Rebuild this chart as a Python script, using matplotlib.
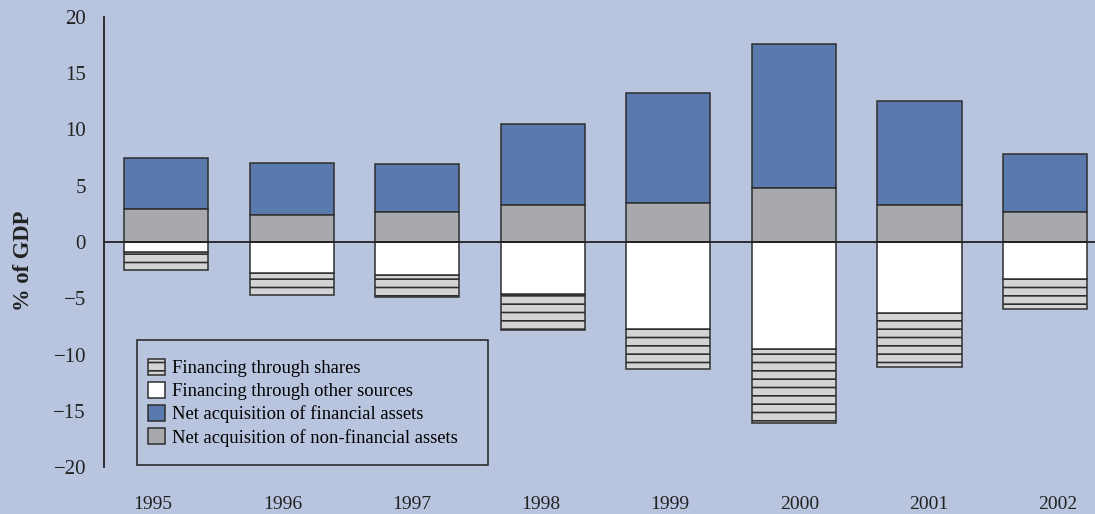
import matplotlib
matplotlib.use("Agg")
import matplotlib.pyplot as plt
from matplotlib.patches import Rectangle
import numpy as np

years = ["1995", "1996", "1997", "1998", "1999", "2000", "2001", "2002"]
non_financial = [2.9, 2.4, 2.7, 3.3, 3.5, 4.8, 3.3, 2.7]
financial = [4.6, 4.65, 4.2, 7.15, 9.7, 12.8, 9.2, 5.15]
other_sources = [-0.9, -2.8, -2.95, -4.65, -7.7, -9.55, -6.35, -3.3]
shares = [-1.6, -1.9, -1.95, -3.2, -3.6, -6.55, -4.75, -2.7]

BG = "#b9c4df"
BLUE = "#5a79ac"
GRAY = "#a8a9ac"
LIGHT = "#d4d4d6"
EDGE = "#2e2e2e"
INK = "#222222"

plt.rcParams["font.family"] = ["Liberation Serif", "DejaVu Serif"]
plt.rcParams["hatch.linewidth"] = 1.2
plt.rcParams["hatch.color"] = EDGE

fig = plt.figure(figsize=(10.95, 5.14), dpi=100, facecolor=BG)
ax = fig.add_axes([0.095, 0.0914, 0.905, 0.8756], facecolor=BG)

x = np.arange(len(years))
w = 0.67
bar_kw = dict(width=w, edgecolor=EDGE, linewidth=1.1, zorder=3)

ax.bar(x, shares, bottom=other_sources, color=LIGHT, hatch="--",
       label="Financing through shares", **bar_kw)
ax.bar(x, other_sources, color="white",
       label="Financing through other sources", **bar_kw)
ax.bar(x, financial, bottom=non_financial, color=BLUE,
       label="Net acquisition of financial assets", **bar_kw)
ax.bar(x, non_financial, color=GRAY,
       label="Net acquisition of non-financial assets", **bar_kw)

ax.axhline(0, color=INK, linewidth=1.3, zorder=4)

ax.set_xlim(-0.494, 7.397)
ax.set_ylim(-20, 20)
ticks = list(range(-20, 21, 5))
ax.set_yticks(ticks)
ax.set_yticklabels([str(v).replace("-", "\u2212") for v in ticks])

# year labels are spread on a slightly wider grid than the bars
label_pos = -0.1035 + x * 1.0294
ax.set_xticks(label_pos)
ax.set_xticklabels(years)
ax.tick_params(axis="y", length=0, pad=13, labelsize=15, colors=INK)
ax.tick_params(axis="x", length=0, pad=21, labelsize=14, colors=INK)

for side in ("top", "right", "bottom"):
    ax.spines[side].set_visible(False)
ax.spines["left"].set_color(INK)
ax.spines["left"].set_linewidth(1.3)

ax.set_ylabel("% of GDP", fontsize=16.3, fontweight="bold", color=INK)
ax.yaxis.set_label_coords(-0.071, 0.458)

# legend frame drawn separately so its size can be set freely
ax.add_patch(Rectangle((0.0333, 0.0044), 0.3542, 0.2778,
                       transform=ax.transAxes, facecolor="none",
                       edgecolor=INK, linewidth=1.1, zorder=5))
leg = ax.legend(loc="upper left", bbox_to_anchor=(0.0444, 0.2400),
                frameon=False, fontsize=13.4,
                handlelength=0.92, handleheight=0.92, handletextpad=0.35,
                labelspacing=0.26, borderpad=0, borderaxespad=0)
leg.set_zorder(5)

fig.savefig("out.png", dpi=100, facecolor=BG)
